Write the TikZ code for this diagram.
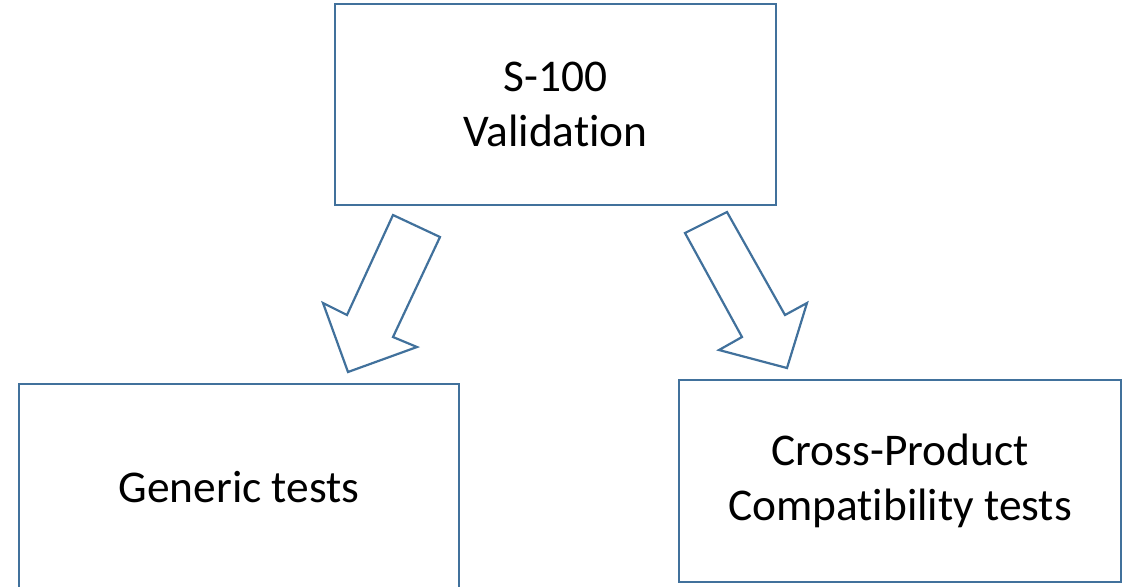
\documentclass[tikz,border=0pt]{standalone}
\usepackage{fontspec}
\setmainfont{Carlito}[Ligatures={NoCommon}]
\usetikzlibrary{positioning}
\definecolor{boxblue}{RGB}{65,113,156}
\tikzset{
    testbox/.style={draw=boxblue, line width=1pt, align=center, inner sep=0pt,
        font=\fontsize{22.7}{27.5}\selectfont},
    blockarrow/.style={draw=boxblue, line width=1.1pt, fill=white, line join=miter},
}

\begin{document}
\begin{tikzpicture}[x=0.5pt, y=-0.5pt]
	\useasboundingbox (0,0) rectangle (1132,586);
	\node[testbox, minimum width=220.5pt, minimum height=100.5pt] (valid) at (555.5,104.5) {S-100\\Validation};
	\node[testbox, minimum width=220pt, minimum height=103pt] (generic) at (239,487) {Generic tests};
	\node[testbox, minimum width=221pt, minimum height=101pt] (cross) at (900,481) {Cross-Product\\Compatibility tests};
	% block arrows
	\draw[blockarrow] (393,215) -- (440,237) -- (393,337) -- (417,347) -- (348,372) -- (323,303) -- (347,315) -- cycle;
	\draw[blockarrow] (685,233) -- (727,212) -- (785,315) -- (807,303) -- (787,368) -- (719,350) -- (742,337) -- cycle;
\end{tikzpicture}
\end{document}
